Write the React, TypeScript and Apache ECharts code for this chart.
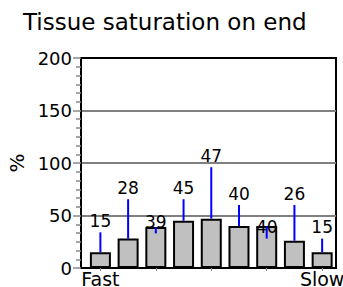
import React, { useEffect, useRef } from "react";
import * as echarts from "echarts";

const titleText = "Tissue saturation on end";
const compartments = [0, 1, 2, 3, 4, 5, 6, 7, 8];
const endLabels: Record<number, string> = { 0: "Fast", 8: "Slow" };
const saturation = [15, 28, 39, 45, 47, 40, 40, 26, 15];
const lineEnds = [34, 65.5, 33, 65.5, 96, 60, 28, 60, 28];
const yTicks = [0, 50, 100, 150, 200];

const FONT = "DejaVu Sans";

export default function App() {
  const ref = useRef<HTMLDivElement>(null);
  useEffect(() => {
    if (!ref.current) return;
    const chart = echarts.init(ref.current, null, { renderer: "svg" });
    const barData = compartments.map((c, i) => [c, saturation[i]]);
    const lineData = compartments.map((c, i) => [c, saturation[i], lineEnds[i]]);
    chart.setOption({
      animation: false,
      backgroundColor: "#ffffff",
      title: {
        text: titleText,
        left: 18,
        top: 5,
        textStyle: { fontFamily: FONT, fontSize: 23, fontWeight: "normal", color: "#000" },
      },
      grid: {
        left: 81,
        right: 7,
        top: 58,
        bottom: 19,
        containLabel: false,
        outerBoundsMode: "none",
        show: true,
        borderColor: "#000",
        borderWidth: 2,
        backgroundColor: "transparent",
      },
      xAxis: {
        type: "value",
        min: -0.7,
        max: 8.5,
        axisLine: { show: true, onZero: false, lineStyle: { color: "#000", width: 2 } },
        axisTick: {
          show: true,
          customValues: [0, 2, 4, 6, 8],
          length: 3,
          lineStyle: { color: "#888", width: 1 },
        },
        axisLabel: {
          show: true,
          customValues: [0, 8],
          formatter: (v: number) => endLabels[v] ?? "",
          fontFamily: FONT,
          fontSize: 19,
          color: "#000",
          margin: 1,
        },
        splitLine: { show: false },
      },
      yAxis: {
        type: "value",
        min: yTicks[0],
        max: yTicks[yTicks.length - 1],
        interval: 50,
        name: "%",
        nameLocation: "middle",
        nameRotate: 90,
        nameGap: 54,
        nameTextStyle: { fontFamily: FONT, fontSize: 20, color: "#000" },
        axisLine: { show: true, onZero: false, lineStyle: { color: "#000", width: 2 } },
        axisTick: { show: true, inside: false, length: 8, lineStyle: { color: "#888", width: 1.5 } },
        minorTick: { show: true, splitNumber: 6, length: 5, lineStyle: { color: "#888", width: 1.5 } },
        axisLabel: { fontFamily: FONT, fontSize: 18, color: "#000", margin: 9 },
        splitLine: {
          show: true,
          showMinLine: false,
          showMaxLine: false,
          lineStyle: { color: "#808080", width: 2 },
        },
      },
      series: [
        {
          type: "bar",
          data: barData,
          barWidth: 21,
          itemStyle: { color: "#c0c0c0", borderColor: "#000", borderWidth: 2 },
          z: 2,
        },
        {
          type: "custom",
          data: lineData,
          z: 3,
          renderItem: (params: any, api: any) => {
            const x = api.value(0);
            const v = api.value(1);
            const e = api.value(2);
            const p0 = api.coord([x, v]);
            const p1 = api.coord([x, e]);
            return {
              type: "group",
              children: [
                {
                  type: "line",
                  shape: { x1: p0[0], y1: p0[1], x2: p1[0], y2: p1[1] },
                  style: { stroke: "#0000ff", lineWidth: 2 },
                },
                {
                  type: "text",
                  x: p1[0],
                  y: p1[1] - 3,
                  style: {
                    text: String(v),
                    fill: "#000",
                    fontFamily: FONT,
                    fontSize: 17,
                    align: "center",
                    verticalAlign: "bottom",
                  },
                },
              ],
            };
          },
        },
      ],
    });
    return () => chart.dispose();
  }, []);
  return (
    <div
      ref={ref}
      style={{ position: "fixed", left: 0, top: 0, width: 343, height: 287, background: "#fff" }}
    />
  );
}
